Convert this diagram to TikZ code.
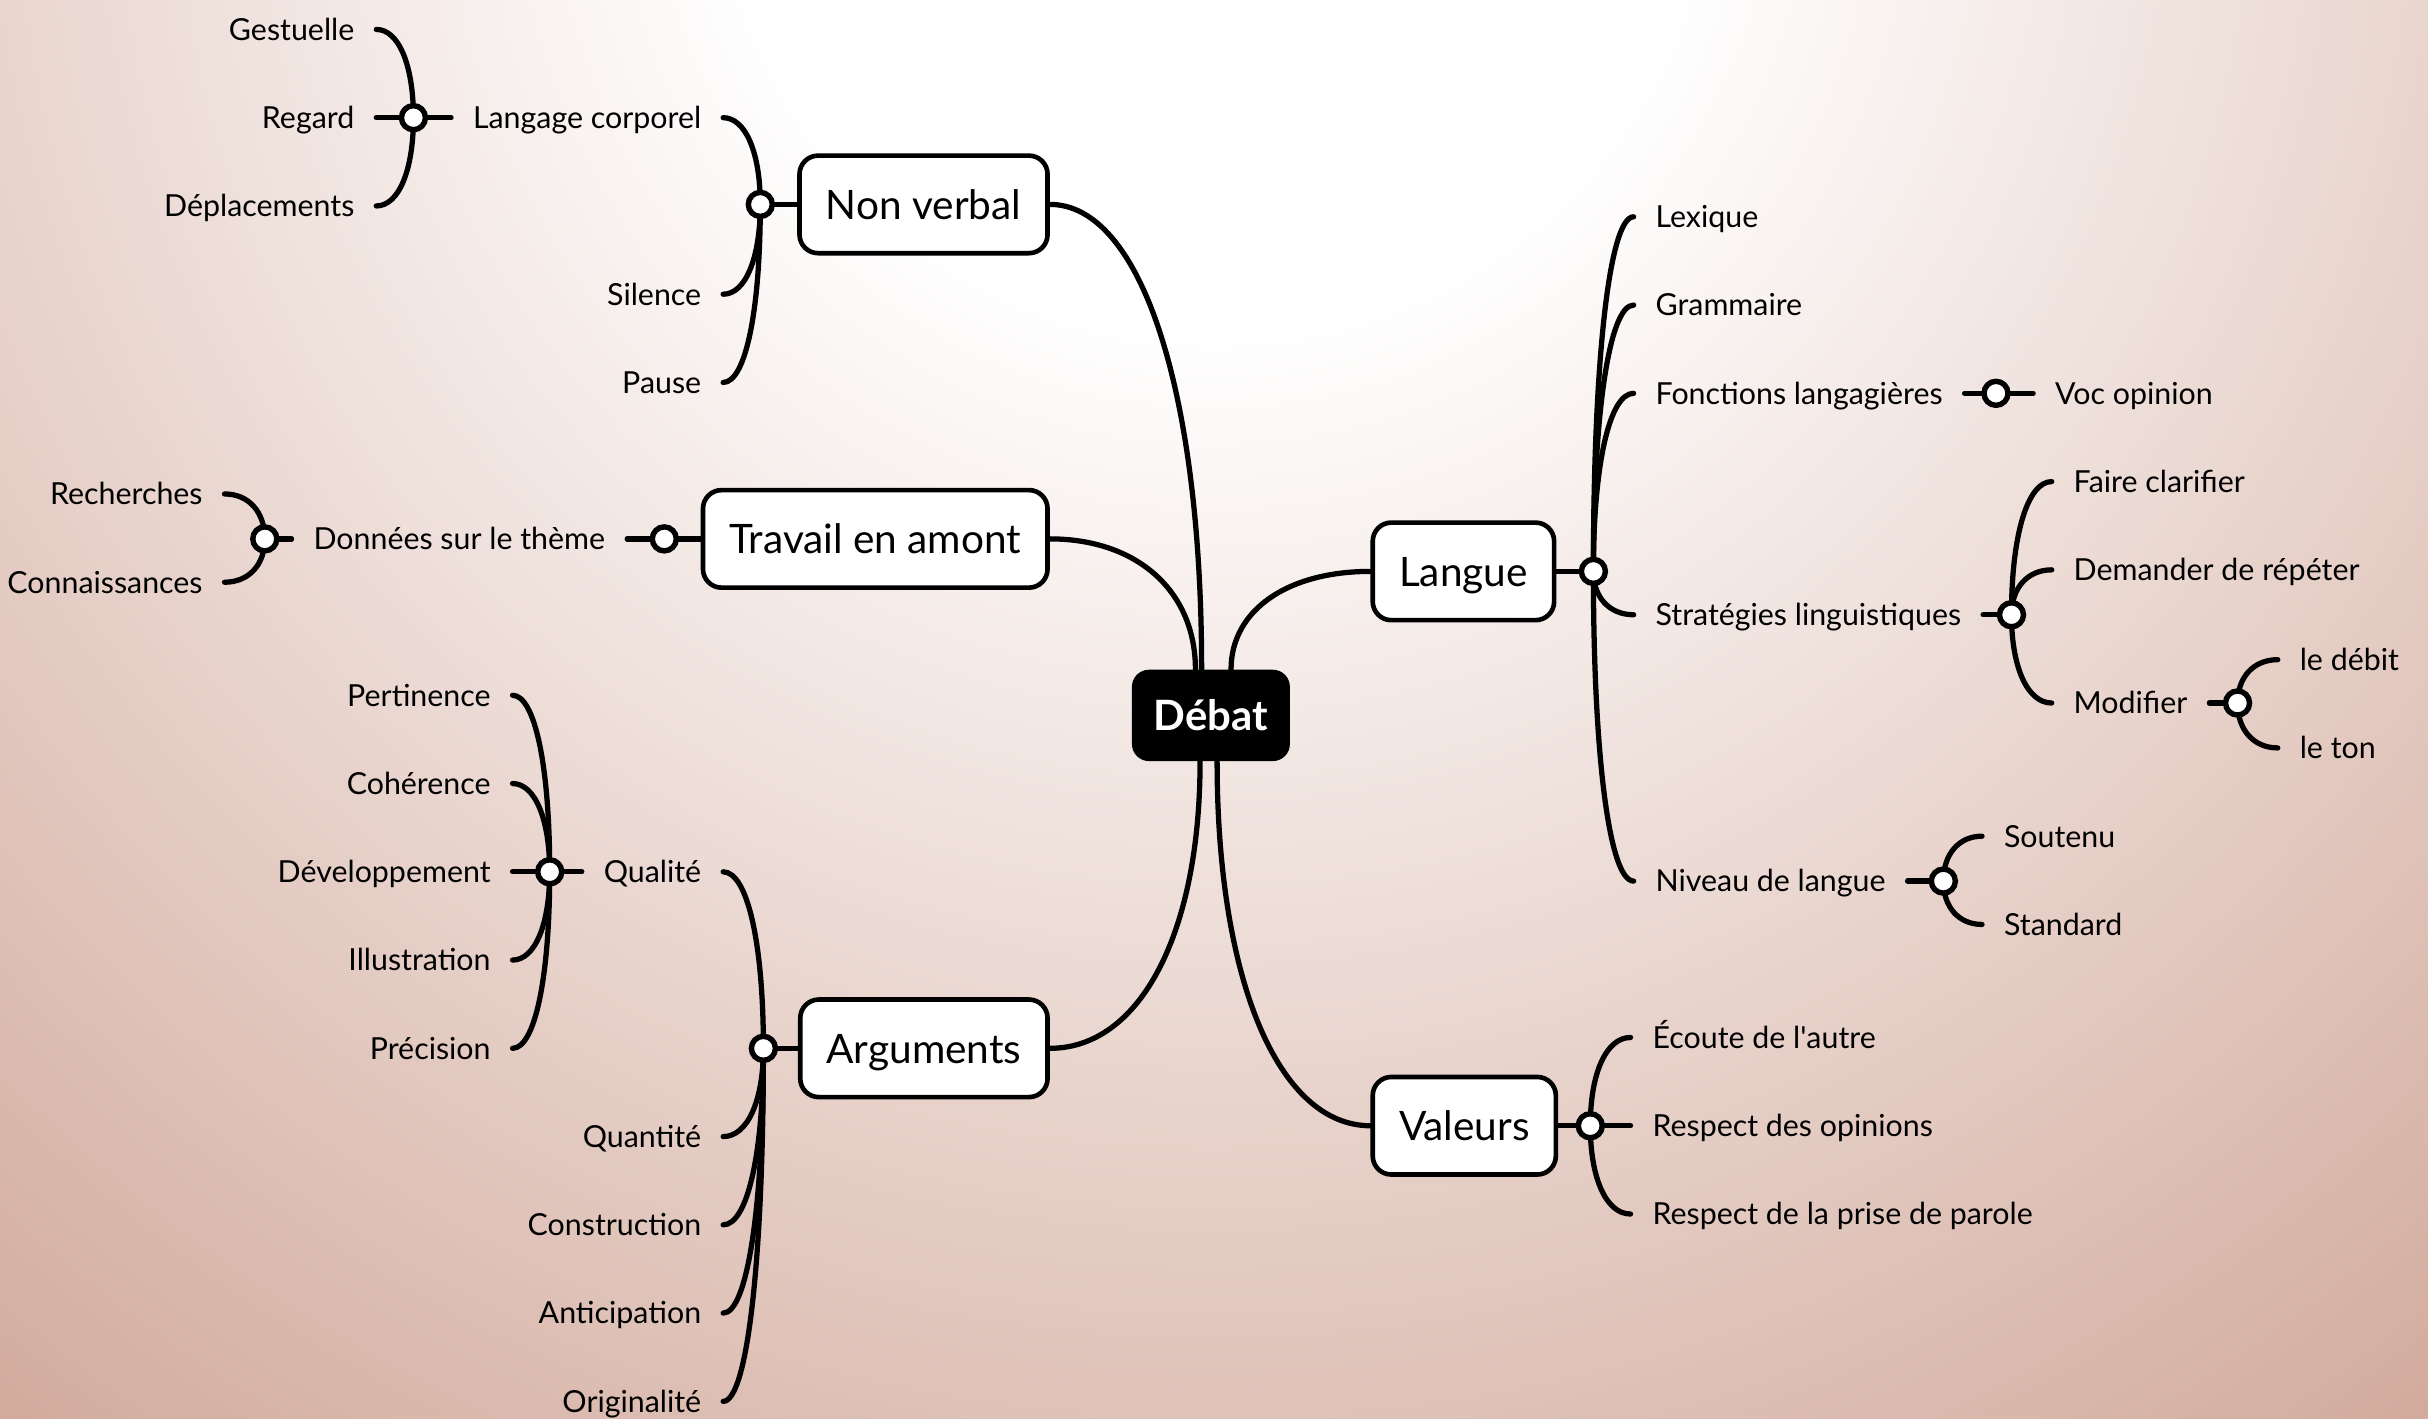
\documentclass[tikz,border=0pt]{standalone}
\usepackage{fontspec}
\setmainfont{Lato}
\usetikzlibrary{calc}
\definecolor{rosefond}{HTML}{D2AA9C}
\pgfdeclareradialshading{halo}{\pgfpoint{0bp}{0bp}}{color(0bp)=(white); color(6bp)=(white); color(25bp)=(rosefond); color(50bp)=(rosefond)}
\pgfdeclarelayer{fond}
\pgfdeclarelayer{liens}
\pgfsetlayers{fond,liens,main}

\begin{document}
\begin{tikzpicture}[x=1pt, y=-1pt]
        % ================= Styles =================
        \tikzset{
            racine/.style={rectangle, rounded corners=11pt, fill=black, text=white, font=\fontsize{27}{32}\selectfont\bfseries, minimum width=102pt, minimum height=59pt, inner sep=0pt, text height=19pt, text depth=0pt},
            boite/.style={rectangle, rounded corners=12pt, draw=black, line width=3pt, fill=white, font=\fontsize{26.2}{31}\selectfont, minimum height=63pt, inner xsep=17pt, text height=19pt, text depth=0pt},
            feuille/.style={font=\fontsize{19.6}{23}\selectfont, inner xsep=14pt, inner ysep=1pt, text height=14pt, text depth=0pt},
            gauche/.style={feuille, anchor=east},
            droite/.style={feuille, anchor=west},
            pivot/.style={circle, draw=black, line width=3.5pt, fill=white, minimum size=15.5pt, inner sep=0pt},
            lien/.style={line width=3.4pt, line cap=round, black},
            branche/.style={to path={.. controls ($(\tikztostart)!0.6!(\tikztostart |- \tikztotarget)$) and ($(\tikztotarget)!0.6!(\tikztostart |- \tikztotarget)$) .. (\tikztotarget)}}
        }

        % ================= Fond =================
        \useasboundingbox (0,0) rectangle (1568,916);
        \begin{pgfonlayer}{fond}
            \clip (0,0) rectangle (1568,916);
            \fill[rosefond] (0,0) rectangle (1568,916);
            \shade[shading=halo] (784,-100) circle[radius=1290];
        \end{pgfonlayer}

        % ================= Centre et boites =================
        \node[racine] (debat) at (782,462) {Débat};
        \coordinate (dNV) at ($(debat.north)+(-6,0)$);
        \coordinate (dTR) at ($(debat.north)+(-10,0)$);
        \coordinate (dLA) at ($(debat.north)+(13,0)$);
        \coordinate (dAR) at ($(debat.south)+(-7,0)$);
        \coordinate (dVA) at ($(debat.south)+(4,0)$);

        \node[boite, anchor=east] (nonverbal) at (678,132) {Non verbal};
        \node[boite, anchor=east] (travail) at (678,348) {Travail en amont};
        \node[boite, anchor=east] (arguments) at (678,677) {Arguments};
        \node[boite, anchor=west] (langue) at (885,369) {Langue};
        \node[boite, anchor=west] (valeurs) at (885,727) {Valeurs};

        % ================= Gauche : Non verbal =================
        \node[pivot] (hNV) at (491,132) {};
        \node[gauche] (corporel) at (467,76) {Langage corporel};
        \node[gauche] (silence) at (467,190) {Silence};
        \node[gauche] (pause) at (467,247) {Pause};
        \node[pivot] (hLC) at (267,76) {};
        \node[gauche] (gestuelle) at (243,19) {Gestuelle};
        \node[gauche] (regard) at (243,76) {Regard};
        \node[gauche] (deplacements) at (243,133) {Déplacements};

        % ================= Gauche : Travail en amont =================
        \node[pivot] (hTR) at (429,348) {};
        \node[gauche] (donnees) at (405,348) {Données sur le thème};
        \node[pivot] (hDO) at (171,348) {};
        \node[gauche] (recherches) at (145,319) {Recherches};
        \node[gauche] (connaissances) at (145,376) {Connaissances};

        % ================= Gauche : Arguments =================
        \node[pivot] (hAR) at (493,677) {};
        \node[gauche] (qualite) at (467,563) {Qualité};
        \node[gauche] (quantite) at (467,734) {Quantité};
        \node[gauche] (construction) at (467,791) {Construction};
        \node[gauche] (anticipation) at (467,848) {Anticipation};
        \node[gauche] (originalite) at (467,905) {Originalité};
        \node[pivot] (hQU) at (355,563) {};
        \node[gauche] (pertinence) at (331,449) {Pertinence};
        \node[gauche] (coherence) at (331,506) {Cohérence};
        \node[gauche] (developpement) at (331,563) {Développement};
        \node[gauche] (illustration) at (331,620) {Illustration};
        \node[gauche] (precision) at (331,677) {Précision};

        % ================= Droite : Langue =================
        \node[pivot] (hLA) at (1029,369) {};
        \node[droite] (lexique) at (1055,140) {Lexique};
        \node[droite] (grammaire) at (1055,197) {Grammaire};
        \node[droite] (fonctions) at (1055,254) {Fonctions langagières};
        \node[droite] (strategies) at (1055,397) {Stratégies linguistiques};
        \node[droite] (niveau) at (1055,569) {Niveau de langue};
        \node[pivot] (hFO) at (1289,254) {};
        \node[droite] (voc) at (1313,254) {Voc opinion};
        \node[pivot] (hST) at (1299,397) {};
        \node[droite] (clarifier) at (1325,311) {Faire clarifier};
        \node[droite] (repeter) at (1325,368) {Demander de répéter};
        \node[droite] (modifier) at (1325,454) {Modifier};
        \node[pivot] (hMO) at (1445,454) {};
        \node[droite] (debit) at (1471,426) {le débit};
        \node[droite] (ton) at (1471,483) {le ton};
        \node[pivot] (hNI) at (1255,569) {};
        \node[droite] (soutenu) at (1280,540) {Soutenu};
        \node[droite] (standard) at (1280,597) {Standard};

        % ================= Droite : Valeurs =================
        \node[pivot] (hVA) at (1027,727) {};
        \node[droite] (ecoute) at (1053,670) {Écoute de l\textquotesingle autre};
        \node[droite] (opinions) at (1053,727) {Respect des opinions};
        \node[droite] (parole) at (1053,784) {Respect de la prise de parole};

        % ================= Liens =================
        \begin{pgfonlayer}{liens}
            % branches principales
            \draw[lien] (dNV) to[branche] (nonverbal.east);
            \draw[lien] (dTR) to[branche] (travail.east);
            \draw[lien] (dLA) to[branche] (langue.west);
            \draw[lien] (dAR) to[branche] (arguments.east);
            \draw[lien] (dVA) to[branche] (valeurs.west);

            % boites -> pivots
            \draw[lien] (nonverbal.west) -- (hNV.center);
            \draw[lien] (travail.west) -- (hTR.center);
            \draw[lien] (arguments.west) -- (hAR.center);
            \draw[lien] (langue.east) -- (hLA.center);
            \draw[lien] (valeurs.east) -- (hVA.center);

            % Non verbal
            \foreach \f in {corporel, silence, pause}
                \draw[lien] (hNV.center) to[branche] (\f.east);
            \draw[lien] (corporel.west) -- (hLC.center);
            \foreach \f in {gestuelle, regard, deplacements}
                \draw[lien] (hLC.center) to[branche] (\f.east);

            % Travail en amont
            \draw[lien] (hTR.center) -- (donnees.east);
            \draw[lien] (donnees.west) -- (hDO.center);
            \foreach \f in {recherches, connaissances}
                \draw[lien] (hDO.center) to[branche] (\f.east);

            % Arguments
            \foreach \f in {qualite, quantite, construction, anticipation, originalite}
                \draw[lien] (hAR.center) to[branche] (\f.east);
            \draw[lien] (qualite.west) -- (hQU.center);
            \foreach \f in {pertinence, coherence, developpement, illustration, precision}
                \draw[lien] (hQU.center) to[branche] (\f.east);

            % Langue
            \foreach \f in {lexique, grammaire, fonctions, strategies, niveau}
                \draw[lien] (hLA.center) to[branche] (\f.west);
            \draw[lien] (fonctions.east) -- (hFO.center);
            \draw[lien] (hFO.center) -- (voc.west);
            \draw[lien] (strategies.east) -- (hST.center);
            \foreach \f in {clarifier, repeter, modifier}
                \draw[lien] (hST.center) to[branche] (\f.west);
            \draw[lien] (modifier.east) -- (hMO.center);
            \foreach \f in {debit, ton}
                \draw[lien] (hMO.center) to[branche] (\f.west);
            \draw[lien] (niveau.east) -- (hNI.center);
            \foreach \f in {soutenu, standard}
                \draw[lien] (hNI.center) to[branche] (\f.west);

            % Valeurs
            \foreach \f in {ecoute, opinions, parole}
                \draw[lien] (hVA.center) to[branche] (\f.west);
        \end{pgfonlayer}

\end{tikzpicture}
\end{document}
